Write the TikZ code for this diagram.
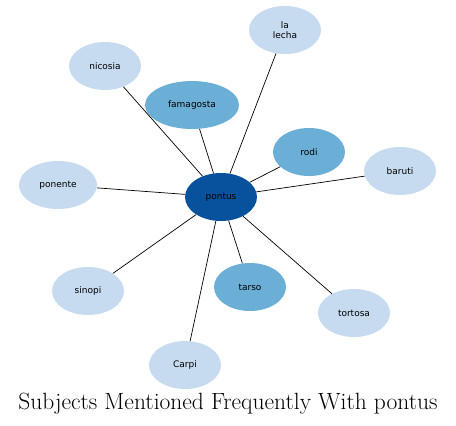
\documentclass[tikz,border=0pt]{standalone}
\usepackage{fontspec}
\usepackage{xcolor}
\usetikzlibrary{shapes.geometric}
\newfontfamily\nodefont{DejaVu Sans}
\definecolor{blueA}{HTML}{C6DBEF}
\definecolor{blueB}{HTML}{6BAED6}
\definecolor{blueC}{HTML}{08519C}
\tikzset{
  subj/.style={ellipse, draw=none, inner sep=0pt, minimum width=72pt,
    minimum height=48pt, align=center, font=\nodefont\fontsize{9}{9.5}\selectfont},
  near/.style={subj, fill=blueB},
  far/.style={subj, fill=blueA},
  link/.style={black, line width=0.7pt}
}

\begin{document}
\begin{tikzpicture}[x=1pt, y=-1pt]
  \useasboundingbox (0,0) rectangle (456,426);

  % centre
  \node[subj, fill=blueC] (pontus) at (221,197) {pontus};

  % neighbours
  \node[far]  (lecha)     at (285,30)  {la\\lecha};
  \node[far]  (nicosia)   at (105,66)  {nicosia};
  \node[near, minimum width=94pt] (famagosta) at (192,105) {famagosta};
  \node[near] (rodi)      at (309,152) {rodi};
  \node[far]  (baruti)    at (400,171) {baruti};
  \node[far, minimum width=78pt] (ponente) at (58,185) {ponente};
  \node[far]  (sinopi)    at (88,291)  {sinopi};
  \node[near] (tarso)     at (250,287) {tarso};
  \node[far]  (tortosa)   at (354,313) {tortosa};
  \node[far]  (carpi)     at (185,365) {Carpi};

  % links
  \foreach \n in {lecha,nicosia,famagosta,rodi,baruti,ponente,sinopi,tarso,tortosa,carpi}
    \draw[link] (pontus) -- (\n);

  % title
  \node[font=\fontsize{23.5}{27}\selectfont] (title) at (228,404) {Subjects Mentioned Frequently With pontus};
\end{tikzpicture}
\end{document}
